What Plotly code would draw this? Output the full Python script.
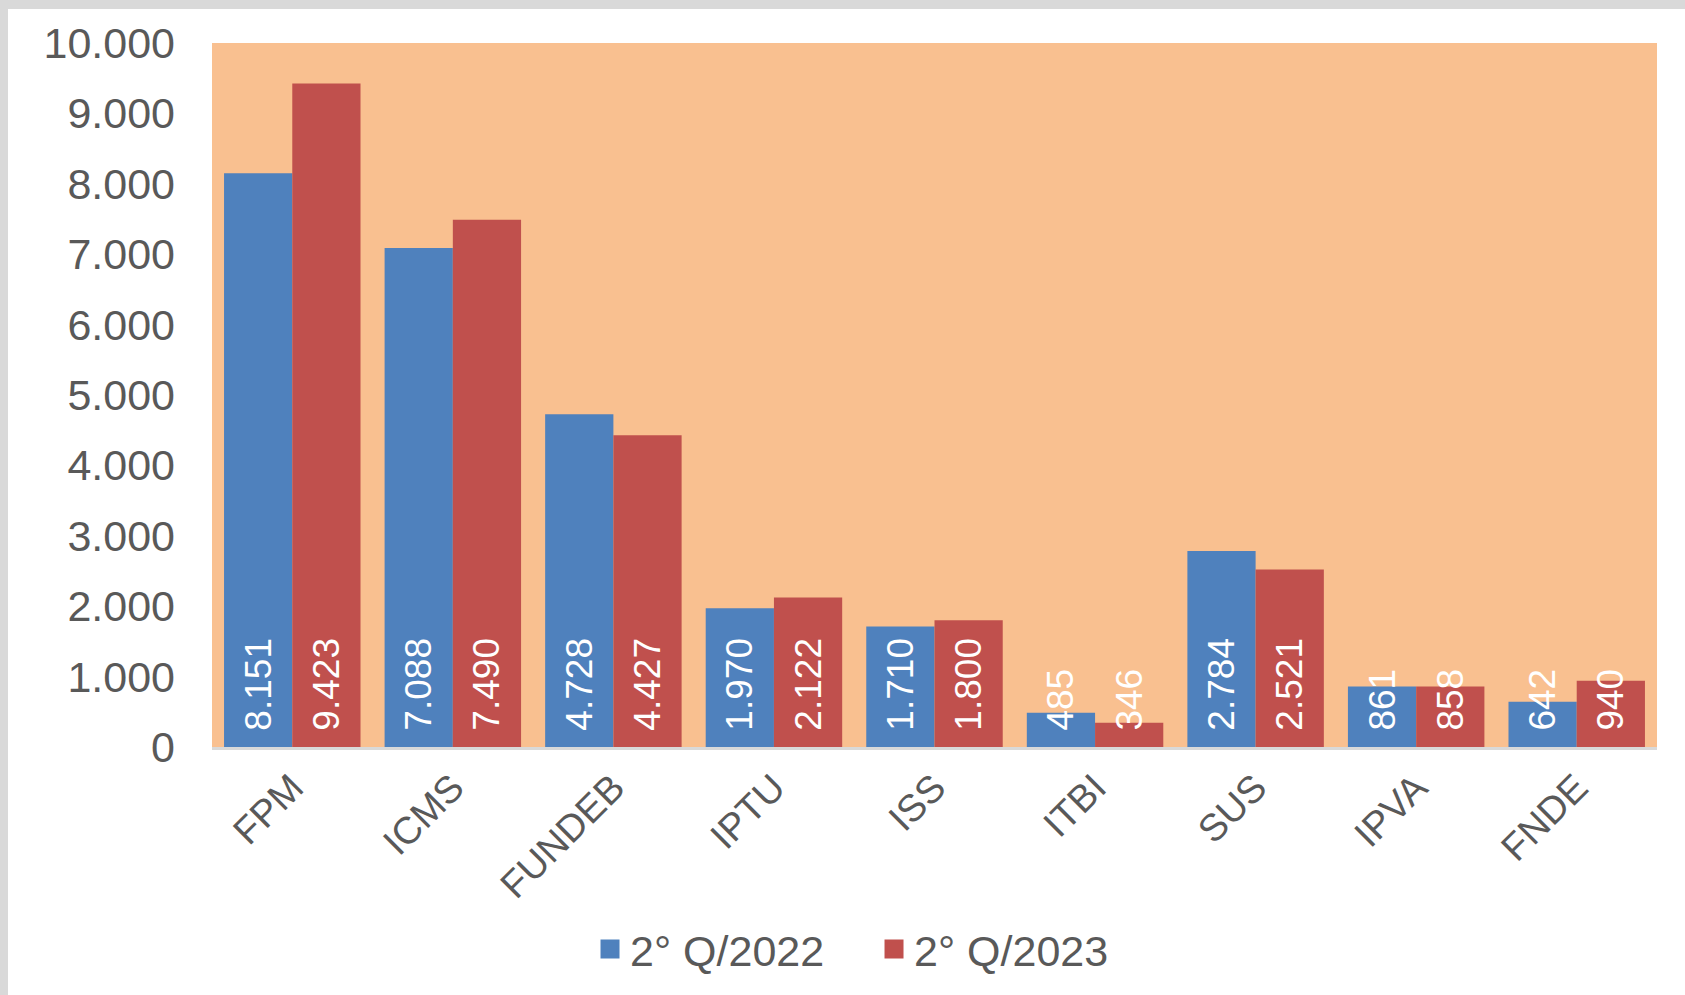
import plotly.graph_objects as go

categories = ["FPM", "ICMS", "FUNDEB", "IPTU", "ISS", "ITBI", "SUS", "IPVA", "FNDE"]
q2022 = [8151, 7088, 4728, 1970, 1710, 485, 2784, 861, 642]
q2023 = [9423, 7490, 4427, 2122, 1800, 346, 2521, 858, 940]
series_names = ["2° Q/2022", "2° Q/2023"]
y_ticks = [0, 1000, 2000, 3000, 4000, 5000, 6000, 7000, 8000, 9000, 10000]

FONT = "Liberation Sans, Arial, sans-serif"
GREY = "#595959"
BORDER = "#D9D9D9"
COLORS = ["#4F81BD", "#C0504D"]

fig = go.Figure()
for name, vals, col in zip(series_names, [q2022, q2023], COLORS):
    fig.add_trace(go.Bar(
        x=categories, y=vals, name=name, showlegend=False,
        marker=dict(color=col, line=dict(width=0)),
        texttemplate="\u00a0\u200a%{y:,d}",
        textposition="inside",
        insidetextanchor="start",
        textangle=-90,
        constraintext="none",
        cliponaxis=False,
        textfont=dict(family=FONT, size=37, color="white"),
        hovertemplate="%{x}: %{y:,d}<extra>" + name + "</extra>",
    ))
# legend entries with larger square swatches
for name, col in zip(series_names, COLORS):
    fig.add_trace(go.Scatter(
        x=[None], y=[None], mode="markers", name=name,
        marker=dict(symbol="square", size=16, color=col, line=dict(width=3, color=col)),
    ))

fig.update_layout(
    width=1685, height=995,
    margin=dict(l=212, r=28, t=43, b=244),
    paper_bgcolor="white",
    plot_bgcolor="#F9C090",
    barmode="group",
    bargap=0.15,
    bargroupgap=0,
    separators=",.",
    font=dict(family=FONT, color=GREY),
    showlegend=True,
    legend=dict(
        orientation="h", x=0.2616, xanchor="left", y=-0.287, yanchor="middle",
        font=dict(family=FONT, size=43, color=GREY),
        itemsizing="trace", traceorder="normal",
        entrywidth=239, entrywidthmode="pixels",
        bgcolor="rgba(0,0,0,0)",
    ),
    shapes=[
        dict(type="rect", xref="paper", yref="paper", xsizemode="pixel", ysizemode="pixel",
             xanchor=0, yanchor=1, x0=-212, x1=1500, y0=34, y1=43,
             fillcolor=BORDER, line=dict(width=0), layer="above"),
        dict(type="rect", xref="paper", yref="paper", xsizemode="pixel", ysizemode="pixel",
             xanchor=0, yanchor=1, x0=-212, x1=-204, y0=-960, y1=43,
             fillcolor=BORDER, line=dict(width=0), layer="above"),
    ],
)

fig.update_yaxes(
    range=[0, 10000], tickvals=y_ticks, tickformat=",d",
    showgrid=False, zeroline=False, showline=False,
    tickfont=dict(family=FONT, size=43, color=GREY),
    ticklabelstandoff=36,
)
fig.update_xaxes(
    tickangle=-45, showgrid=False, showline=True, linecolor=BORDER, linewidth=3,
    tickfont=dict(family=FONT, size=38, color=GREY),
    ticklabelstandoff=0,
)

fig.write_html(
    "out.html",
    config={"displayModeBar": False},
    post_script="document.body.style.margin='0';document.body.style.overflow='hidden';",
)
